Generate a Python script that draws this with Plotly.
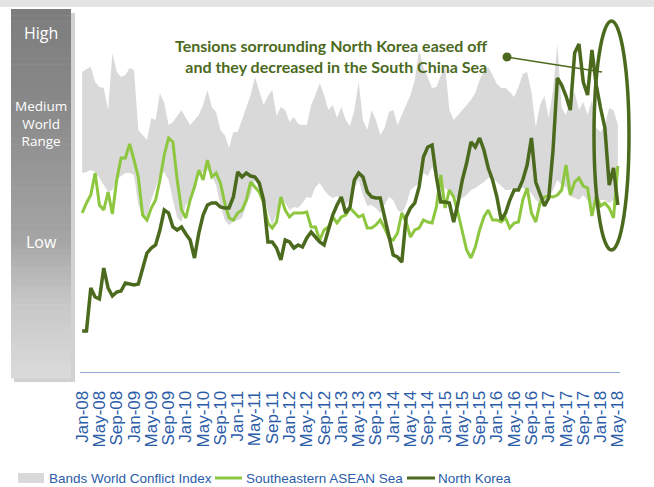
import plotly.graph_objects as go
import pandas as pd

# ---- data (index units, monthly Jan-08 .. May-18) ----
months = list(pd.date_range("2008-01-01", periods=125, freq="MS").strftime("%b-%y"))
tick_labels = months[::4]

north_korea = [41, 41, 84, 75, 73, 104, 84, 76, 80, 81, 89, 88, 87, 88, 105, 119, 124, 127, 142, 162,
               159, 145, 142, 145, 138, 132, 114, 139, 157, 167, 169, 169, 165, 164, 164, 175, 200, 195, 199, 196,
               195, 189, 172, 130, 130, 124, 112, 132, 130, 124, 127, 125, 134, 140, 135, 130, 127, 142, 157, 167,
               175, 159, 165, 192, 199, 195, 180, 175, 174, 174, 155, 139, 117, 115, 110, 155, 164, 169, 185, 215,
               225, 227, 195, 170, 170, 169, 150, 169, 192, 209, 230, 225, 234, 222, 204, 192, 175, 152, 159, 172,
               182, 182, 192, 207, 234, 190, 178, 166, 174, 222, 294, 287, 276, 262, 319, 328, 290, 277, 322, 287,
               264, 244, 187, 204, 167]

asean_sea = [159, 169, 177, 199, 167, 162, 180, 158, 192, 214, 214, 228, 212, 195, 157, 152, 164, 172, 192, 217,
             234, 230, 192, 162, 154, 172, 185, 202, 192, 212, 195, 199, 189, 169, 154, 152, 159, 162, 172, 190,
             185, 180, 169, 149, 144, 150, 175, 162, 155, 159, 159, 159, 160, 145, 145, 132, 142, 145, 155, 149,
             155, 157, 164, 159, 155, 157, 144, 144, 147, 152, 144, 134, 132, 139, 159, 150, 135, 142, 144, 152,
             150, 149, 165, 197, 164, 182, 175, 159, 139, 122, 114, 125, 142, 155, 162, 152, 152, 150, 154, 144,
             149, 150, 172, 184, 159, 150, 169, 175, 176, 175, 177, 182, 207, 177, 190, 194, 186, 184, 156, 176,
             166, 169, 164, 154, 206]

world_upper = [300, 303, 305, 290, 285, 284, 262, 319, 300, 295, 297, 304, 302, 242, 237, 232, 254, 252, 279, 269,
               247, 250, 256, 262, 254, 247, 252, 257, 267, 282, 265, 260, 242, 237, 224, 240, 240, 252, 265, 277,
               295, 280, 267, 276, 282, 256, 265, 262, 250, 255, 248, 247, 247, 267, 277, 289, 277, 262, 267, 254,
               265, 252, 246, 262, 290, 252, 242, 262, 252, 237, 244, 260, 262, 247, 257, 267, 277, 292, 322, 305,
               294, 284, 285, 297, 307, 262, 252, 257, 262, 266, 272, 279, 292, 302, 305, 297, 288, 284, 284, 280,
               275, 285, 298, 300, 280, 245, 267, 276, 254, 282, 328, 264, 257, 272, 280, 262, 270, 257, 272, 244,
               240, 247, 264, 262, 247]

world_lower = [199, 200, 202, 200, 194, 187, 180, 182, 192, 196, 199, 199, 197, 167, 157, 156, 172, 184, 197, 200,
               192, 172, 154, 150, 167, 172, 182, 197, 200, 202, 196, 187, 167, 152, 147, 150, 152, 154, 167, 177,
               192, 184, 175, 160, 147, 159, 175, 169, 162, 165, 164, 169, 175, 174, 185, 189, 182, 177, 174, 176,
               172, 167, 172, 184, 192, 177, 166, 167, 164, 159, 167, 175, 172, 162, 159, 167, 182, 186, 189, 199,
               196, 205, 192, 180, 184, 180, 176, 172, 174, 177, 182, 184, 187, 190, 194, 194, 190, 186, 182, 182,
               184, 184, 184, 182, 179, 172, 169, 169, 172, 182, 192, 187, 185, 176, 174, 172, 177, 172, 166, 168,
               172, 172, 169, 172, 172]

# ---- styling ----
W, H = 654, 487
L, R, T, B = 80, 34, 10, 115
PW, PH = W - L - R, H - T - B
DARK = "#4B6A1D"
LIGHT = "#8DC63F"
BAND = "#D9D9D9"
BLUE = "#2B5CA8"


def px(x):
    return (x - L) / PW


def py(y):
    return (H - B - y) / PH


fig = go.Figure()
fig.add_trace(go.Scatter(x=months, y=world_lower, mode="lines", line=dict(width=0, color=BAND),
                         hoverinfo="skip", showlegend=False))
fig.add_trace(go.Scatter(x=months, y=world_upper, mode="lines", line=dict(width=0, color=BAND),
                         fill="tonexty", fillcolor=BAND, name="Bands World Conflict Index", showlegend=False))
fig.add_trace(go.Scatter(x=months, y=asean_sea, mode="lines", line=dict(width=3, color=LIGHT),
                         name="Southeastern ASEAN Sea", showlegend=False))
fig.add_trace(go.Scatter(x=months, y=north_korea, mode="lines", line=dict(width=3.5, color=DARK),
                         name="North Korea", showlegend=False))

shapes = []
# top strip
shapes.append(dict(type="rect", xref="paper", yref="paper", x0=px(0), x1=px(W), y0=py(7), y1=py(0),
                   fillcolor="#E4E4E4", line=dict(width=0), layer="above"))
# left gradient bar with shadow
shapes.append(dict(type="rect", xref="paper", yref="paper", x0=px(14), x1=px(75), y0=py(382), y1=py(13),
                   fillcolor="rgba(0,0,0,0.18)", line=dict(width=0), layer="below"))
stops = [(9, 125), (100, 136), (240, 165), (300, 198), (378, 219)]
y_top, y_bot, n = 9, 378, 60
for k in range(n):
    a = y_top + (y_bot - y_top) * k / n
    b = y_top + (y_bot - y_top) * (k + 1) / n
    m = (a + b) / 2
    for j in range(len(stops) - 1):
        if stops[j][0] <= m <= stops[j + 1][0]:
            t = (m - stops[j][0]) / (stops[j + 1][0] - stops[j][0])
            g = int(round(stops[j][1] + t * (stops[j + 1][1] - stops[j][1])))
            break
    shapes.append(dict(type="rect", xref="paper", yref="paper", x0=px(11), x1=px(71), y0=py(b + 0.5), y1=py(a),
                       fillcolor=f"rgb({g},{g},{g})", line=dict(width=0), layer="below"))
# callout ellipse and pointer
shapes.append(dict(type="circle", xref="paper", yref="paper", x0=px(594), x1=px(629), y0=py(250), y1=py(21),
                   line=dict(color=DARK, width=3.5)))
shapes.append(dict(type="line", xref="paper", yref="paper", x0=px(507), y0=py(57), x1=px(602), y1=py(72),
                   line=dict(color=DARK, width=1.5)))
shapes.append(dict(type="circle", xref="paper", yref="paper", x0=px(502.5), x1=px(511.5), y0=py(61.5), y1=py(52.5),
                   fillcolor=DARK, line=dict(width=0)))
# legend swatches
shapes.append(dict(type="rect", xref="paper", yref="paper", x0=px(18), x1=px(44), y0=py(483), y1=py(473),
                   fillcolor=BAND, line=dict(width=0)))
shapes.append(dict(type="line", xref="paper", yref="paper", x0=px(215), x1=px(242), y0=py(478), y1=py(478),
                   line=dict(color=LIGHT, width=3)))
shapes.append(dict(type="line", xref="paper", yref="paper", x0=px(407), x1=px(435), y0=py(478), y1=py(478),
                   line=dict(color=DARK, width=3)))

annotations = []
for txt, yy, sz in [("High", 33, 16), ("Medium<br>World<br>Range", 123, 13.5), ("Low", 242, 16)]:
    annotations.append(dict(text=txt, xref="paper", yref="paper", x=px(41), y=py(yy), showarrow=False,
                            xanchor="center", yanchor="middle", align="center",
                            font=dict(family="Open Sans", size=sz, color="white")))
annotations.append(dict(text="<b>Tensions sorrounding North Korea eased off<br>and they decreased in the South China Sea</b>",
                        xref="paper", yref="paper", x=px(489), y=py(56), showarrow=False, xanchor="right",
                        yanchor="middle", align="right",
                        font=dict(family="Lato", size=16, color=DARK)))
for txt, xx in [("Bands World Conflict Index", 47), ("Southeastern ASEAN Sea", 244), ("North Korea", 436)]:
    annotations.append(dict(text=txt, xref="paper", yref="paper", x=px(xx), y=py(478), showarrow=False,
                            xanchor="left", yanchor="middle",
                            font=dict(family="Liberation Sans, Arial", size=13.5, color=BLUE)))

fig.update_layout(
    width=W, height=H, margin=dict(l=L, r=R, t=T, b=B),
    plot_bgcolor="white", paper_bgcolor="white", showlegend=False,
    shapes=shapes, annotations=annotations,
    xaxis=dict(type="category", range=[-0.5, len(months) - 0.5], tickmode="array", tickvals=tick_labels,
               ticktext=tick_labels, tickangle=-90, showgrid=False, zeroline=False,
               showline=True, linecolor="#8FA8D8", linewidth=1, ticks="", ticklabelstandoff=11,
               tickfont=dict(family="Liberation Sans, Arial", size=17, color=BLUE)),
    yaxis=dict(range=[0, PH], showgrid=False, zeroline=False, showticklabels=False, showline=False, ticks=""),
)

fig.write_html("out.html", config={"displayModeBar": False},
               post_script="document.body.style.margin='0';")
